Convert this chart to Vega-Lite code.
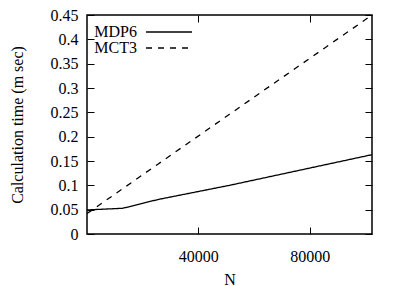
{
  "$schema": "https://vega.github.io/schema/vega-lite/v6.json",
  "width": 285,
  "height": 219,
  "autosize": {"type": "none"},
  "padding": {"left": 87, "top": 15, "right": 37, "bottom": 52},
  "config": {
    "font": "Liberation Serif",
    "view": {"stroke": "black", "strokeWidth": 1.5},
    "axis": {
      "domain": false,
      "grid": false,
      "tickColor": "black",
      "tickWidth": 1,
      "tickSize": -7,
      "labelFont": "Liberation Serif",
      "labelFontSize": 16,
      "labelColor": "black",
      "titleFont": "Liberation Serif",
      "titleFontSize": 16,
      "titleFontWeight": "normal",
      "titleColor": "black"
    }
  },
  "data": {
    "values": [
      {"N": 0, "time": 0.0495, "series": "MDP6"},
      {"N": 12800, "time": 0.0528, "series": "MDP6"},
      {"N": 25600, "time": 0.071, "series": "MDP6"},
      {"N": 51200, "time": 0.1, "series": "MDP6"},
      {"N": 102400, "time": 0.163, "series": "MDP6"},
      {"N": 0, "time": 0.042, "series": "MCT3"},
      {"N": 12800, "time": 0.093, "series": "MCT3"},
      {"N": 25600, "time": 0.144, "series": "MCT3"},
      {"N": 51200, "time": 0.246, "series": "MCT3"},
      {"N": 102400, "time": 0.45, "series": "MCT3"}
    ]
  },
  "layer": [
    {
      "mark": {"type": "line", "color": "black", "strokeWidth": 1.3, "clip": true},
      "encoding": {
        "x": {
          "field": "N", "type": "quantitative",
          "scale": {"domain": [0, 102400], "nice": false, "zero": false},
          "axis": {"values": [40000, 80000], "format": "d", "title": "N", "labelPadding": 21, "titlePadding": 7}
        },
        "y": {
          "field": "time", "type": "quantitative",
          "scale": {"domain": [0, 0.45], "nice": false},
          "axis": {"values": [0, 0.05, 0.1, 0.15, 0.2, 0.25, 0.3, 0.35, 0.4, 0.45], "format": ".2~f", "title": "Calculation time (m sec)", "labelPadding": 16, "titlePadding": 25}
        },
        "strokeDash": {
          "field": "series", "type": "nominal",
          "scale": {"domain": ["MDP6", "MCT3"], "range": [[1, 0], [6, 6]]},
          "legend": {
            "title": null,
            "orient": "none",
            "legendX": 74,
            "legendY": 9,
            "padding": 0,
            "symbolType": "M-4,0H4",
            "symbolSize": 132,
            "symbolStrokeWidth": 1.3,
            "symbolStrokeColor": "black",
            "symbolFillColor": "transparent",
            "labelFont": "Liberation Serif",
            "labelFontSize": 16,
            "labelColor": "black",
            "labelAlign": "right",
            "labelOffset": -40,
            "rowPadding": -3
          }
        }
      }
    },
    {
      "mark": {"type": "line", "strokeOpacity": 0},
      "encoding": {
        "x": {"field": "N", "type": "quantitative", "axis": {"orient": "top", "values": [40000, 80000], "labels": false, "title": null}},
        "y": {"field": "time", "type": "quantitative", "axis": {"orient": "right", "values": [0, 0.05, 0.1, 0.15, 0.2, 0.25, 0.3, 0.35, 0.4, 0.45], "labels": false, "title": null}},
        "detail": {"field": "series"}
      }
    }
  ],
  "resolve": {"axis": {"x": "independent", "y": "independent"}}
}
